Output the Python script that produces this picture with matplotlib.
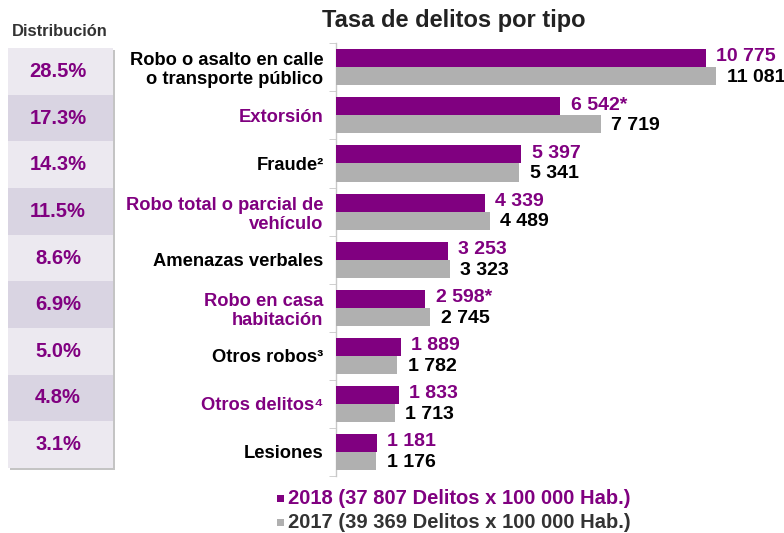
import matplotlib
matplotlib.use("Agg")
import matplotlib.pyplot as plt
from matplotlib.patches import Rectangle

plt.rcParams['font.family'] = ['Liberation Sans', 'DejaVu Sans']

categories = ["Robo o asalto en calle\no transporte público", "Extorsión", "Fraude²",
              "Robo total o parcial de\nvehículo", "Amenazas verbales", "Robo en casa\nhabitación",
              "Otros robos³", "Otros delitos⁴", "Lesiones"]
label_colors = ["black", "purple", "black", "purple", "black", "purple", "black", "purple", "black"]
v2018 = [10775, 6542, 5397, 4339, 3253, 2598, 1889, 1833, 1181]
v2017 = [11081, 7719, 5341, 4489, 3323, 2745, 1782, 1713, 1176]
marks2018 = ["", "*", "", "", "", "*", "", "", ""]
distribution = ["28.5%", "17.3%", "14.3%", "11.5%", "8.6%", "6.9%", "5.0%", "4.8%", "3.1%"]
legend_2018 = "2018 (37 807 Delitos x 100 000 Hab.)"
legend_2017 = "2017 (39 369 Delitos x 100 000 Hab.)"
title = "Tasa de delitos por tipo"

PURPLE = "#800080"
GRAY = "#b0b0b0"

W, H = 784, 533
fig = plt.figure(figsize=(W / 100, H / 100), dpi=100)

def fx(px):
    return px / W

def fy(py):
    return 1 - py / H

# main axes
ax = fig.add_axes([fx(336), fy(476), fx(782) - fx(336), fy(43.3) - fy(476)])
n = len(categories)
ys = [-i for i in range(n)]
h = 0.375
ax.barh([y + h / 2 for y in ys], v2018, height=h, color=PURPLE, zorder=3)
ax.barh([y - h / 2 for y in ys], v2017, height=h, color=GRAY, zorder=3)
ax.set_xlim(0, 13000)
ax.set_ylim(-n + 0.5, 0.5)
for s in ["top", "right", "bottom"]:
    ax.spines[s].set_visible(False)
ax.spines["left"].set_color("#c8c8c8")
ax.spines["left"].set_linewidth(1.0)
ax.set_xticks([])
ax.set_yticks(ys)
ax.set_yticklabels(categories, fontsize=13.2, fontweight="bold", linespacing=1.15)
for lab, c in zip(ax.get_yticklabels(), label_colors):
    lab.set_color(PURPLE if c == "purple" else "black")
ax.tick_params(axis="y", which="major", length=0, pad=9)
ax.set_yticks([y + 0.5 for y in ys] + [-n + 0.5], minor=True)
ax.tick_params(axis="y", which="minor", length=5, color="#c8c8c8", direction="out")

def fmt(v):
    return f"{v:,}".replace(",", " ")

for y, a, b, m in zip(ys, v2018, v2017, marks2018):
    ax.annotate(fmt(a) + m, (a, y + h / 2), xytext=(7.5, 1), textcoords="offset points",
                ha="left", va="center", fontsize=14, fontweight="bold", color=PURPLE)
    ax.annotate(fmt(b), (b, y - h / 2), xytext=(7.5, -1), textcoords="offset points",
                ha="left", va="center", fontsize=14, fontweight="bold", color="black")

# title
fig.text(fx(454), fy(20), title, ha="center", va="center", fontsize=17, fontweight="bold", color="#222222")

# distribution table
fig.text(fx(60), fy(31), "Distribución", ha="center", va="center", fontsize=11.9, fontweight="bold", color="#333333")
tab_top, tab_bot = 48, 468
row_h = (tab_bot - tab_top) / n
# shadow
fig.patches.append(Rectangle((fx(9.5), fy(tab_bot + 1.5)), fx(113) - fx(8), fy(tab_top + 1.5) - fy(tab_bot + 1.5),
                             transform=fig.transFigure, facecolor="#c4c4c4", edgecolor="none", zorder=0))
for i, d in enumerate(distribution):
    top = tab_top + i * row_h
    col = "#ece9f0" if i % 2 == 0 else "#d9d4e2"
    fig.patches.append(Rectangle((fx(8), fy(top + row_h)), fx(113) - fx(8), fy(top) - fy(top + row_h),
                                 transform=fig.transFigure, facecolor=col, edgecolor="none", zorder=1))
    fig.text(fx(58), fy(top + row_h / 2), d, ha="center", va="center", fontsize=14.5,
             fontweight="bold", color=PURPLE)

# legend
for py, txt, col, tcol in [(498, legend_2018, PURPLE, PURPLE), (522, legend_2017, GRAY, "#333333")]:
    fig.patches.append(Rectangle((fx(276.5), fy(py + 3.5)), fx(7), fy(0) - fy(7),
                                 transform=fig.transFigure, facecolor=col, edgecolor="none"))
    fig.text(fx(288), fy(py), txt, ha="left", va="center", fontsize=14.5, fontweight="bold", color=tcol)

fig.savefig("out.png", dpi=100, facecolor="white")
